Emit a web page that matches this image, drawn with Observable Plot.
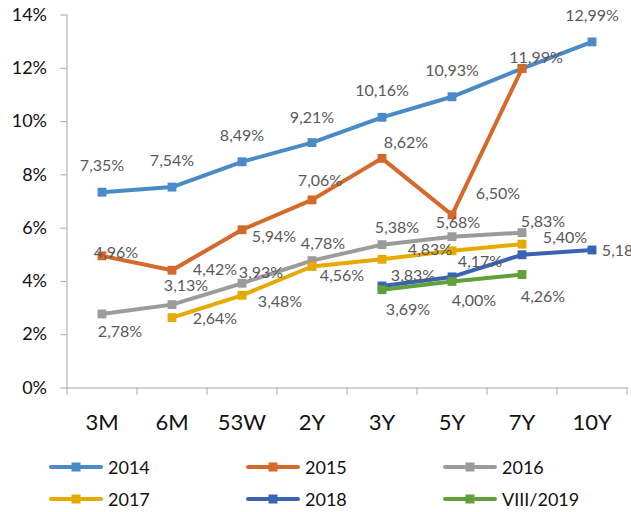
<!DOCTYPE html>
<html><head><meta charset="utf-8">
<script src="https://cdn.jsdelivr.net/npm/d3@7"></script>
<script src="https://cdn.jsdelivr.net/npm/@observablehq/plot@0.6"></script>
<style>
html,body{margin:0;padding:0;background:#fff;overflow:hidden}
#wrap{position:relative;width:631px;height:512px;font-family:Lato,"Open Sans",sans-serif;overflow:hidden}
#chart svg [aria-label^="y-axis"] text{fill:#111}
.leg{position:absolute;display:flex;align-items:center;font-size:18px;color:#111;height:24px;line-height:24px}
.leg svg{display:block;margin-right:5px}
</style></head><body><div id="wrap"><div id="chart"></div><div id="legend"></div></div>
<script>
const categories = ["3M","6M","53W","2Y","3Y","5Y","7Y","10Y"];
const seriesNames = ["2014","2015","2016","2017","2018","VIII/2019"];
const colors = ["#4a8ac6","#d4692a","#9b9b9b","#e6a900","#3a63b3","#62a03c"];
const yTicks = [0,2,4,6,8,10,12,14];
const v2014 = [7.35,7.54,8.49,9.21,10.16,10.93,11.99,12.99];
const v2015 = [4.96,4.42,5.94,7.06,8.62,6.50,11.99,null];
const v2016 = [2.78,3.13,3.93,4.78,5.38,5.68,5.83,null];
const v2017 = [null,2.64,3.48,4.56,4.83,5.15,5.40,null];
const v2018 = [null,null,null,null,3.83,4.17,5.00,5.18];
const v2019 = [null,null,null,null,3.69,4.00,4.26,null];
// label nudges (pixels) relative to each point; null = no label shown
const n2014 = [[0,-26],[0,-26],[0,-26],[0,-25],[0,-26],[0,-26],null,[0,-26]];
const n2015 = [[14,-3],[43,0],[32,7],[8,-19],[24,-15],[46,-21],[14,-11],null];
const n2016 = [[18,18],[14,-19],[19,-10],[11,-17],[15,-17],[6,-14],[21,-11],null];
const n2017 = [null,[43,1],[38,7],[30,9],[48,-9],null,[43,-6],null];
const n2018 = [null,null,null,null,[31,-10],[28,-15],null,[32,1]];
const n2019 = [null,null,null,null,[26,20],[22,19],[21,22],null];

const allValues = [v2014,v2015,v2016,v2017,v2018,v2019];
const allNudges = [n2014,n2015,n2016,n2017,n2018,n2019];
const fmt = v => v.toFixed(2).replace(".", ",") + "%";

const rows = [];
allValues.forEach((vals, s) => vals.forEach((v, i) => {
  if (v != null) rows.push({series: seriesNames[s], s, i, v, nudge: allNudges[s][i]});
}));

const boundaries = d3.range(-0.5, 8, 1);
const marks = [];
seriesNames.forEach((name, s) => {
  const d = rows.filter(r => r.s === s);
  marks.push(Plot.line(d, {x: "i", y: "v", stroke: colors[s], strokeWidth: 4, strokeLinejoin: "round"}));
  marks.push(Plot.dot(d, {x: "i", y: "v", symbol: "square", r: 5, fill: colors[s], stroke: "none"}));
});
rows.filter(r => r.nudge).forEach(r => {
  marks.push(Plot.text([r], {x: "i", y: "v", text: d => fmt(d.v), dx: r.nudge[0], dy: r.nudge[1],
    fill: "#595959", fontSize: 16, textAnchor: "middle"}));
});
marks.push(Plot.text(categories, {x: (d, i) => i, y: () => 0, text: d => d, dy: 34.5, fontSize: 22, fill: "#111"}));

const chart = Plot.plot({
  width: 631, height: 445,
  marginLeft: 66.5, marginRight: 4.5, marginTop: 14.5, marginBottom: 57.5,
  style: {fontFamily: 'Lato,"Open Sans",sans-serif', fontSize: "18px", color: "#a6a6a6", background: "#fff"},
  x: {domain: [-0.5, 7.5], ticks: boundaries, tickFormat: () => "", tickSize: 7, line: true, label: null},
  y: {domain: [0, 14], ticks: yTicks, tickFormat: d => d + "%", tickSize: 6, tickPadding: 14, line: true, label: null},
  marks
});
document.getElementById("chart").appendChild(chart);

const legend = document.getElementById("legend");
const colX = [49, 246, 443];
const rowY = [467, 499];
seriesNames.forEach((name, s) => {
  const div = document.createElement("div");
  div.className = "leg";
  div.style.left = colX[s % 3] + "px";
  div.style.top = (rowY[Math.floor(s / 3)] - 12) + "px";
  div.innerHTML = `<svg width="54" height="12"><line x1="2" y1="6" x2="52" y2="6" stroke="${colors[s]}" stroke-width="4" stroke-linecap="round"/><rect x="22.5" y="1.5" width="9" height="9" fill="${colors[s]}"/></svg><span>${name}</span>`;
  legend.appendChild(div);
});
</script></body></html>
